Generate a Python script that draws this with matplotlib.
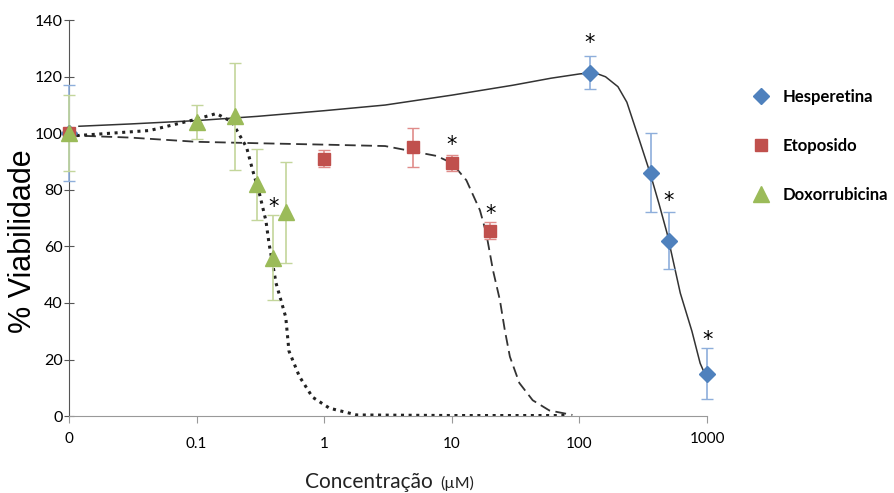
import matplotlib.pyplot as plt
from matplotlib.lines import Line2D

plt.rcParams['font.family'] = ['Lato', 'DejaVu Sans']

# --- measured points (mean +/- sd) ---
hesp_x = [0.01, 120, 360, 500, 1000]
hesp_y = [100, 121.5, 86, 62, 15]
hesp_err = [17, 6, 14, 10, 9]

etop_x = [0.01, 1, 5, 10, 20]
etop_y = [100, 91, 95, 89.5, 65.5]
etop_err = [1.5, 3, 7, 3, 3]

doxo_x = [0.01, 0.1, 0.2, 0.3, 0.4, 0.5]
doxo_y = [100, 104, 106, 82, 56, 72]
doxo_err = [13.5, 6, 19, 12.5, 15, 18]

# --- fitted curves ---
hesp_curve_x = [0.012, 0.03, 0.1, 0.3, 1, 3, 10, 30, 60, 100, 130, 160, 200, 235, 295, 357, 420, 485, 616, 760, 881, 1000]
hesp_curve_y = [102.5, 103.3, 104.5, 106, 108, 110, 113.5, 117, 119.5, 121, 121.5, 120, 116.5, 111, 97.5, 86, 75, 64.7, 43.5, 30, 18.7, 13]

etop_curve_x = [0.01, 0.03, 0.1, 0.3, 1, 3, 7.6, 10, 13, 16.6, 18.6, 21, 23.8, 26, 28.5, 33.8, 43, 58, 88]
etop_curve_y = [99.3, 98.5, 97, 96.5, 96, 95.5, 92, 89.5, 83.4, 72.8, 64.7, 51.6, 41, 30.4, 21, 11.7, 5.6, 2, 0.4]

doxo_curve_x = [0.01, 0.043, 0.1, 0.143, 0.19, 0.247, 0.275, 0.31, 0.35, 0.37, 0.42, 0.5, 0.53, 0.64, 0.81, 1.1, 1.8, 10, 80]
doxo_curve_y = [99, 101, 105, 107, 104, 95, 87, 79, 69, 61, 47, 35, 23, 14, 6.7, 2.8, 0.4, 0.2, 0.2]

# significance marks
star_x = [120, 500, 1000, 10, 20, 0.4]
star_y = [128.5, 72.5, 23.5, 92.5, 68, 70.5]

xticks = [0.01, 0.1, 1, 10, 100, 1000]
xtick_labels = ['0', '0.1', '1', '10', '100', '1000']

blue, blue_light = '#4F81BD', '#8EAEDB'
red, red_light = '#C0504D', '#E08C8A'
green, green_light = '#9BBB59', '#C3D69B'

fig = plt.figure(figsize=(8.94, 4.93), dpi=100)
ax = fig.add_axes([0.077, 0.156, 0.714, 0.803])

# curves
ax.plot(hesp_curve_x, hesp_curve_y, color='#333333', lw=1.1, ls='-')
ax.plot(etop_curve_x, etop_curve_y, color='#333333', lw=1.3, ls=(0, (6, 3)))
ax.plot(doxo_curve_x, doxo_curve_y, color='#222222', lw=2.2, ls=(0, (1, 1.5)))

# points with error bars
ax.errorbar(hesp_x, hesp_y, yerr=hesp_err, fmt='D', color=blue, ms=8, mec=blue,
            ecolor=blue_light, elinewidth=1.2, capsize=4, clip_on=False, zorder=3)
ax.errorbar(etop_x, etop_y, yerr=etop_err, fmt='s', color=red, ms=8, mec=red,
            ecolor=red_light, elinewidth=1.2, capsize=4, clip_on=False, zorder=3)
ax.errorbar(doxo_x, doxo_y, yerr=doxo_err, fmt='^', color=green, ms=11, mec=green,
            ecolor=green_light, elinewidth=1.2, capsize=4, clip_on=False, zorder=3)

for sx, sy in zip(star_x, star_y):
    ax.text(sx, sy, '*', ha='center', va='bottom', fontsize=15, family='DejaVu Sans')

ax.set_xscale('log')
ax.set_xlim(0.01, 1000)
ax.set_ylim(0, 140)
ax.set_xticks(xticks)
ax.set_xticklabels(xtick_labels)
ax.minorticks_off()
ax.set_yticks(range(0, 141, 20))

for s in ['top', 'right']:
    ax.spines[s].set_visible(False)
ax.spines['left'].set_color('#555555')
ax.spines['bottom'].set_color('#999999')
ax.tick_params(axis='y', direction='inout', length=7, color='#555555', labelsize=11.5, pad=1)
ax.tick_params(axis='x', direction='out', length=5, color='#999999', labelsize=11, pad=10)
ax.get_xticklabels()[0].set_y(0.012)
ax.get_xticklabels()[-1].set_y(0.012)

fig.text(0.026, 0.51, '% Viabilidade', rotation=90, fontsize=22, family='Liberation Sans',
         ha='center', va='center')
fig.text(0.341, 0.01, 'Concentração', fontsize=15, ha='left', va='baseline', color='#222222')
fig.text(0.492, 0.01, '(µM)', fontsize=11.5, ha='left', va='baseline', color='#222222')

handles = [Line2D([], [], ls='none', marker='D', ms=8, color=blue),
           Line2D([], [], ls='none', marker='s', ms=8, color=red),
           Line2D([], [], ls='none', marker='^', ms=11, color=green)]
names = ['Hesperetina', 'Etoposido', 'Doxorrubicina']
ax.legend(handles, names, loc='upper left', bbox_to_anchor=(1.045, 0.865), frameon=False,
          labelspacing=2.0, handletextpad=0.7, handlelength=1.2,
          prop={'weight': 'bold', 'size': 12})

fig.savefig('out.png', dpi=100)
